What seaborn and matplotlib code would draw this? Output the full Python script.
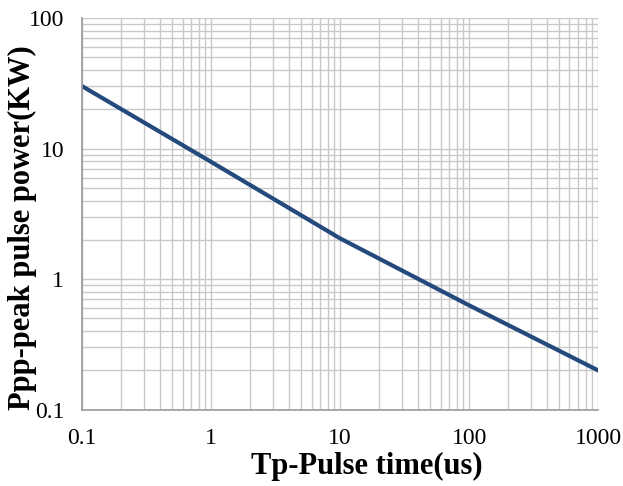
import matplotlib
matplotlib.use("Agg")
import matplotlib.pyplot as plt
import matplotlib.ticker as mticker
import pandas as pd
import seaborn as sns

# valores
pulse_time = [0.1, 1, 10, 100, 1000]
peak_power = [30, 7.9, 2.05, 0.63, 0.2]

x_ticks = [0.1, 1, 10, 100, 1000]
x_tick_labels = ["0.1", "1", "10", "100", "1000"]
y_ticks = [0.1, 1, 10, 100]
y_tick_labels = ["0.1", "1", "10", "100"]

df = pd.DataFrame({"tp": pulse_time, "ppp": peak_power})

sns.set_style("white")
plt.rcParams["font.family"] = ["Liberation Serif", "DejaVu Serif"]
plt.rcParams["text.color"] = "black"
plt.rcParams["axes.labelcolor"] = "black"
plt.rcParams["xtick.labelcolor"] = "black"
plt.rcParams["ytick.labelcolor"] = "black"

fig, ax = plt.subplots(figsize=(6.23, 4.86), dpi=100)
sns.lineplot(data=df, x="tp", y="ppp", ax=ax, color="#23497d", linewidth=3)

ax.set_xscale("log")
ax.set_yscale("log")
ax.set_xlim(0.1, 1000)
ax.set_ylim(0.1, 100)

ax.xaxis.set_major_locator(mticker.FixedLocator(x_ticks))
ax.xaxis.set_major_formatter(mticker.FixedFormatter(x_tick_labels))
ax.yaxis.set_major_locator(mticker.FixedLocator(y_ticks))
ax.yaxis.set_major_formatter(mticker.FixedFormatter(y_tick_labels))
ax.xaxis.set_minor_locator(mticker.LogLocator(base=10, subs=range(2, 10)))
ax.yaxis.set_minor_locator(mticker.LogLocator(base=10, subs=range(2, 10)))
ax.xaxis.set_minor_formatter(mticker.NullFormatter())
ax.yaxis.set_minor_formatter(mticker.NullFormatter())

ax.grid(True, which="both", color="#c8c8c8", linewidth=1.0)
ax.set_axisbelow(True)
for side in ["top", "right"]:
    ax.spines[side].set_visible(False)
for side in ["left", "bottom"]:
    ax.spines[side].set_color("#9a9a9a")
    ax.spines[side].set_linewidth(1.2)

ax.tick_params(which="major", direction="out", length=5, color="#9a9a9a",
               labelcolor="black", labelsize=17, pad=8)
ax.tick_params(which="minor", length=0)

ax.set_xlabel("Tp-Pulse time(us)", fontsize=22, fontweight="bold", color="black")
ax.set_ylabel("Ppp-peak pulse power(KW)", fontsize=22, fontweight="bold", color="black")
ax.xaxis.set_label_coords(0.552, -0.108)
ax.yaxis.set_label_coords(-0.087, 0.466)

plt.subplots_adjust(left=0.132, right=0.96, top=0.963, bottom=0.157)
plt.savefig("out.png", dpi=100)
